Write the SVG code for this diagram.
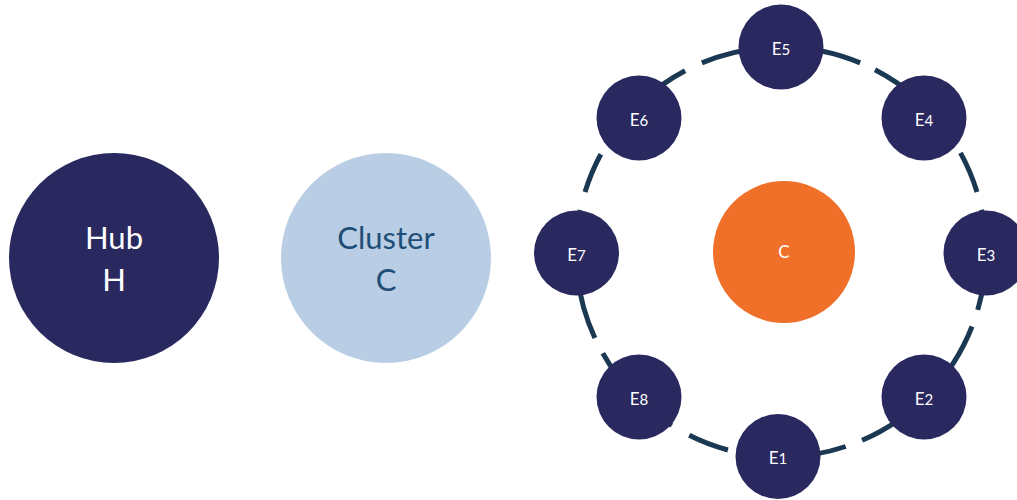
<svg xmlns="http://www.w3.org/2000/svg" width="1017" height="500" viewBox="0 0 1017 500">
<style>
.ring{fill:none;stroke:#1B3853;stroke-width:5;stroke-linecap:butt}
.dark{fill:#29285F}
.lbl{font-family:Lato,"Open Sans","Liberation Sans",sans-serif;fill:#FFFFFF;text-anchor:middle}
.big{font-size:31px}
.small{font-size:17px}
.dig{font-size:15px}
</style>
<rect width="1017" height="500" fill="#FFFFFF"/>
<g id="hub">
<circle class="dark" cx="114" cy="258" r="105"/>
<text class="lbl big" x="114" y="249">Hub</text>
<text class="lbl big" x="114" y="291">H</text>
</g>
<g id="cluster">
<circle cx="386" cy="258" r="105" fill="#B9CEE4"/>
<text class="lbl big" x="386" y="249" style="fill:#1F4E79">Cluster</text>
<text class="lbl big" x="386" y="291" style="fill:#1F4E79">C</text>
</g>
<g id="connectors">
<path class="ring" d="M701.9,62.9 A205,205 0 0 1 860.1,62.9"/>
<path class="ring" d="M875.0,69.8 A205,205 0 0 1 952.9,140.4"/>
<path class="ring" d="M960.5,152.9 A205,205 0 0 1 977.0,192.1"/>
<path class="ring" d="M981.6,209.7 A205,205 0 0 1 977.7,309.9"/>
<path class="ring" d="M972.0,326.5 A205,205 0 0 1 862.1,440.3"/>
<path class="ring" d="M845.7,446.5 A205,205 0 0 1 743.6,453.6"/>
<path class="ring" d="M727.9,450.0 A205,205 0 0 1 689.2,435.3"/>
<path class="ring" d="M671.8,425.5 A205,205 0 0 1 602.8,353.2"/>
<path class="ring" d="M594.9,338.0 A205,205 0 0 1 580.3,210.1"/>
<path class="ring" d="M585.0,192.1 A205,205 0 0 1 600.8,154.2"/>
<path class="ring" d="M609.1,140.4 A205,205 0 0 1 685.1,70.8"/>
</g>
<g id="center">
<circle cx="784" cy="252" r="71" fill="#F07029"/>
<text class="lbl small" x="784" y="258">C</text>
</g>
<g id="e5"><circle class="dark" cx="781" cy="47" r="42.5"/><text class="lbl small" x="781" y="55">E<tspan class="dig">5</tspan></text></g>
<g id="e4"><circle class="dark" cx="924" cy="118" r="42.5"/><text class="lbl small" x="924" y="126">E<tspan class="dig">4</tspan></text></g>
<g id="e3"><circle class="dark" cx="986" cy="253" r="42.5"/><text class="lbl small" x="986" y="261">E<tspan class="dig">3</tspan></text></g>
<g id="e2"><circle class="dark" cx="924" cy="397" r="42.5"/><text class="lbl small" x="924" y="405">E<tspan class="dig">2</tspan></text></g>
<g id="e1"><circle class="dark" cx="778" cy="456.5" r="42.5"/><text class="lbl small" x="778" y="464">E<tspan class="dig">1</tspan></text></g>
<g id="e8"><circle class="dark" cx="639" cy="397" r="42.5"/><text class="lbl small" x="639" y="405">E<tspan class="dig">8</tspan></text></g>
<g id="e7"><circle class="dark" cx="576.5" cy="253" r="42.5"/><text class="lbl small" x="576.5" y="261">E<tspan class="dig">7</tspan></text></g>
<g id="e6"><circle class="dark" cx="639" cy="118" r="42.5"/><text class="lbl small" x="639" y="126">E<tspan class="dig">6</tspan></text></g>
</svg>
